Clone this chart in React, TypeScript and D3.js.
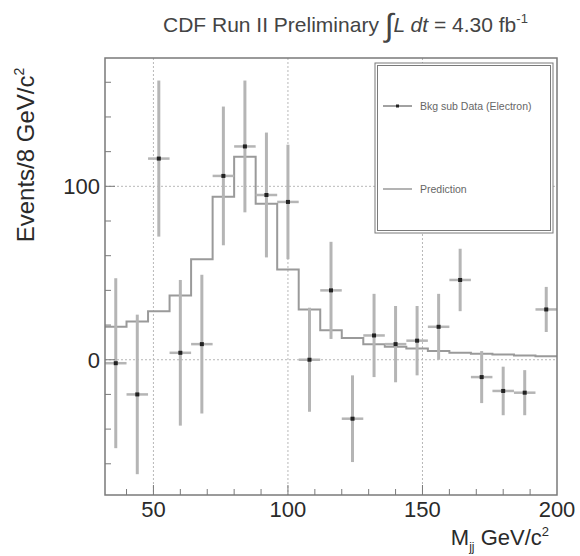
import * as d3 from "d3";

// bins of 8 GeV/c^2 from 32 to 200
const binEdges = [32, 40, 48, 56, 64, 72, 80, 88, 96, 104, 112, 120, 128, 136, 144, 152, 160, 168, 176, 184, 192, 200];
const dataValues = [-2, -20, 116, 4, 9, 106, 123, 95, 91, 0, 40, -34, 14, 9, 11, 19, 46, -10, -18, -19, 29];
const dataErrors = [49, 46, 45, 42, 40, 40, 38, 36, 33, 30, 28, 25, 24, 22, 20, 19, 18, 15, 14, 13, 13];
const prediction = [19, 22, 28, 37, 58, 94, 117, 90, 52, 29, 17, 12.5, 9, 7.5, 6.5, 5, 4, 3.5, 3, 2.5, 2];
const xTicks = [50, 100, 150, 200];
const yTicks = [0, 100];
const legendLabels = ["Bkg sub Data (Electron)", "Prediction"];

export default function App() {
  const W = 580;
  const H = 556;
  const left = 105;
  const right = 557;
  const top = 58;
  const bottom = 495;

  const x = d3.scaleLinear().domain([32, 200]).range([left, right]);
  const y = d3.scaleLinear().domain([-78, 174]).range([bottom, top]);

  const font = "Liberation Sans, Arial, sans-serif";
  const frameColor = "#7a7a7a";
  const gridColor = "#b8b8b8";
  const textColor = "#2a2a2a";

  const xMinor = d3.range(40, 200, 10);
  const yMinor = d3.range(-60, 174, 20);

  // step line for prediction
  const stepPts: [number, number][] = [];
  prediction.forEach((v, i) => {
    stepPts.push([binEdges[i], v]);
    stepPts.push([binEdges[i + 1], v]);
  });
  const stepLine = d3.line<[number, number]>()
    .x(d => x(d[0]))
    .y(d => y(d[1]));

  return (
    <svg width={W} height={H} style={{ position: "absolute", left: 0, top: 0, background: "#fff" }}>
      {/* title */}
      <text x={163} y={32} fontFamily={font} fontSize={21} fill="#444">
        <tspan>CDF Run II Preliminary </tspan>
        <tspan fontSize={32} dy={4}>∫</tspan>
        <tspan fontStyle="italic" dy={-4}>L dt</tspan>
        <tspan> = 4.30 fb</tspan>
        <tspan fontSize={13} dy={-9}>-1</tspan>
      </text>

      {/* grid */}
      {xTicks.filter(t => t < 200).map(t => (
        <line key={"gx" + t} x1={x(t)} x2={x(t)} y1={top} y2={bottom}
          stroke={gridColor} strokeWidth={1} strokeDasharray="2,2" />
      ))}
      {yTicks.map(t => (
        <line key={"gy" + t} x1={left} x2={right} y1={y(t)} y2={y(t)}
          stroke={gridColor} strokeWidth={1} strokeDasharray="2,2" />
      ))}

      {/* prediction histogram */}
      <path d={stepLine(stepPts) || ""} fill="none" stroke="#9a9a9a" strokeWidth={2} />

      {/* data error bars */}
      {dataValues.map((v, i) => {
        const c = (binEdges[i] + binEdges[i + 1]) / 2;
        return (
          <g key={"d" + i}>
            <line x1={x(c)} x2={x(c)} y1={y(v + dataErrors[i])} y2={y(v - dataErrors[i])}
              stroke="#b5b5b5" strokeWidth={3} />
            <line x1={x(binEdges[i])} x2={x(binEdges[i + 1])} y1={y(v)} y2={y(v)}
              stroke="#b5b5b5" strokeWidth={2.5} />
            <rect x={x(c) - 2} y={y(v) - 2} width={4} height={4} fill="#222" />
          </g>
        );
      })}

      {/* frame */}
      <rect x={left} y={top} width={right - left} height={bottom - top}
        fill="none" stroke={frameColor} strokeWidth={1.5} />

      {/* ticks */}
      {xMinor.map(t => (
        <line key={"xt" + t} x1={x(t)} x2={x(t)} y1={bottom} y2={bottom - (t % 50 === 0 ? 10 : 6)}
          stroke={frameColor} strokeWidth={1} />
      ))}
      {yMinor.map(t => (
        <line key={"yt" + t} x1={left} x2={left + (t % 100 === 0 ? 10 : 6)} y1={y(t)} y2={y(t)}
          stroke={frameColor} strokeWidth={1} />
      ))}

      {/* tick labels */}
      {xTicks.map(t => (
        <text key={"xl" + t} x={x(t)} y={517} textAnchor="middle"
          fontFamily={font} fontSize={22} fill={textColor}>{t}</text>
      ))}
      {yTicks.map(t => (
        <text key={"yl" + t} x={left - 5} y={y(t) + 8} textAnchor="end"
          fontFamily={font} fontSize={22} fill={textColor}>{t}</text>
      ))}

      {/* axis titles */}
      <text x={549} y={545} textAnchor="end" fontFamily={font} fontSize={22} fill={textColor}>
        <tspan>M</tspan>
        <tspan fontSize={12} dy={6}>jj</tspan>
        <tspan dy={-6}> GeV/c</tspan>
        <tspan fontSize={13} dy={-9}>2</tspan>
      </text>
      <text transform="translate(34,155) rotate(-90)" textAnchor="middle"
        fontFamily={font} fontSize={24} fill={textColor}>
        <tspan>Events/8 GeV/c</tspan>
        <tspan fontSize={14} dy={-10}>2</tspan>
      </text>

      {/* legend */}
      <rect x={375} y={63} width={178} height={170} fill="#fff" stroke={frameColor} strokeWidth={1} />
      <rect x={377.5} y={65.5} width={173} height={165} fill="none" stroke={frameColor} strokeWidth={1} />
      <line x1={383} x2={412} y1={106} y2={106} stroke="#444" strokeWidth={1} />
      <rect x={396} y={104.5} width={3} height={3} fill="#222" />
      <text x={420} y={110} fontFamily={font} fontSize={10.5} fill="#666">{legendLabels[0]}</text>
      <line x1={383} x2={412} y1={189} y2={189} stroke="#9a9a9a" strokeWidth={1.5} />
      <text x={420} y={193} fontFamily={font} fontSize={10.5} fill="#666">{legendLabels[1]}</text>
    </svg>
  );
}
